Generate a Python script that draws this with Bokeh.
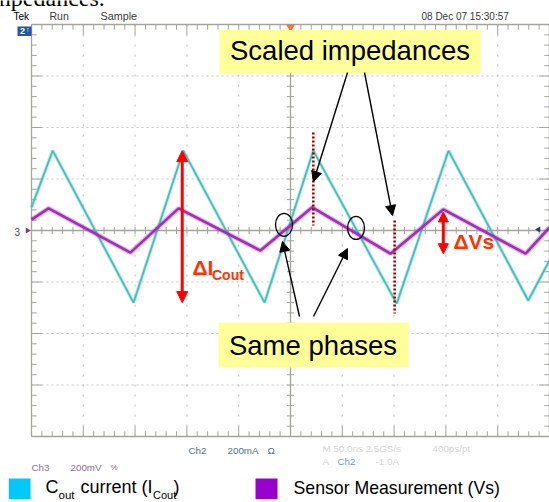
import numpy as np
from bokeh.plotting import figure
from bokeh.models import Range1d, Label, Arrow, NormalHead
from bokeh.embed import file_html
from bokeh.resources import INLINE

# ---------------- data (oscilloscope divisions: time 0..10, level -4..4) ----------------
cyan_t = [0.00, 0.41, 1.97, 2.93, 4.50, 5.44, 7.05, 8.05, 9.59, 10.00]
cyan_v = [0.45, 1.55, -1.40, 1.55, -1.40, 1.55, -1.42, 1.55, -1.36, -0.58]
purple_t = [0.00, 0.33, 1.91, 2.84, 4.42, 5.42, 6.93, 7.95, 9.54, 10.00]
purple_v = [0.21, 0.43, -0.43, 0.43, -0.39, 0.45, -0.45, 0.41, -0.45, 0.06]
phase_t = [4.875, 6.265]          # circled "same phase" crossings
phase_v = [0.11, 0.05]

header_texts = ["Tek", "Run", "Sample", "08 Dec 07 15:30:57"]
legend_texts = ["Sensor Measurement (Vs)"]

# ---------------- layout helpers (reference image px -> divisions) ----------------
W, H = 549, 502
X0, XD, Y0, YD = 31.0, 51.8, 230.0, 51.5
BASE_SHIFT = 0.36   # em offset of the label anchor relative to the visual baseline


def px(X):
    return (X - X0) / XD


def py(Y):
    return (Y0 - Y) / YD


p = figure(width=W, height=H, x_range=Range1d(px(0), px(W)), y_range=Range1d(py(H), py(0)),
           output_backend="svg", toolbar_location=None, x_axis_type=None, y_axis_type=None,
           min_border=0)
p.outline_line_color = None
p.background_fill_color = "white"
p.border_fill_color = "white"

GRID = "#c8c8c8"
FRAME = "#a4a49c"

# dotted graticule
gx = [1, 2, 3, 4, 6, 7, 8, 9]
p.segment(x0=gx, y0=[-4] * len(gx), x1=gx, y1=[4] * len(gx), line_color=GRID, line_width=1.2,
          line_dash="2 8")
gy = [-3, -2, -1, 1, 2, 3]
p.segment(x0=[0] * len(gy), y0=gy, x1=[10] * len(gy), y1=gy, line_color=GRID, line_width=1.2,
          line_dash="2 3")

# centre cross with minor ticks
p.segment(x0=[5, 0], y0=[-4, 0], x1=[5, 10], y1=[4, 0], line_color=FRAME, line_width=1.3)
tt = np.round(np.arange(0, 10.001, 0.2), 3)
ss = np.round(np.arange(-4, 4.001, 0.2), 3)
p.segment(x0=tt, y0=-0.07, x1=tt, y1=0.07, line_color=FRAME, line_width=1)
p.segment(x0=5 - 0.07, y0=ss, x1=5 + 0.07, y1=ss, line_color=FRAME, line_width=1)

# frame with ticks
p.segment(x0=[0, 0, 0, 10], y0=[-4, 4, -4, -4], x1=[0, 10, 10, 10], y1=[4, 4, -4, 4],
          line_color=FRAME, line_width=1.3)
lt = np.where(np.isclose(tt, np.round(tt)), 0.2, 0.1)
ls = np.where(np.isclose(ss, np.round(ss)), 0.2, 0.1)
p.segment(x0=0, y0=ss, x1=ls, y1=ss, line_color=FRAME, line_width=1)
p.segment(x0=10, y0=ss, x1=10 - ls, y1=ss, line_color=FRAME, line_width=1)
p.segment(x0=tt, y0=4, x1=tt, y1=4 - lt, line_color=FRAME, line_width=1)
p.segment(x0=tt, y0=-4, x1=tt, y1=-4 + lt, line_color=FRAME, line_width=1)

# scope markers
p.scatter([5.0], [py(26.5)], marker="inverted_triangle", size=9, fill_color="#f07a3c", line_color=None)
p.scatter([px(27)], [0], marker="triangle", angle=-np.pi / 2, size=6, fill_color="#7a3f8a", line_color=None)
p.scatter([px(538)], [py(229)], marker="triangle", angle=np.pi / 2, size=6, fill_color="#1d3c78", line_color=None)
p.quad(left=px(17), right=px(31), top=py(26), bottom=py(35.5), fill_color="#2456a8", line_color=None)

# traces
p.line(cyan_t, cyan_v, line_color="#4ec5c1", line_width=3.6, line_alpha=0.35)
p.line(cyan_t, cyan_v, line_color="#44bfbb", line_width=1.8)
p.line(purple_t, purple_v, line_color="#a83cbc", line_width=5.0, line_alpha=0.35)
p.line(purple_t, purple_v, line_color="#a02fb4", line_width=2.6)

# dark red dotted markers at peak / trough
p.segment(x0=[cyan_t[5], cyan_t[6] - 0.04], y0=[py(132), py(220)],
          x1=[cyan_t[5], cyan_t[6] - 0.04], y1=[py(225), py(313)],
          line_color="#a00000", line_width=2.6, line_dash="2 2")

# circles around crossings
p.ellipse(x=phase_t, y=phase_v, width=17 / XD, height=23 / YD, fill_color=None,
          line_color="black", line_width=1.3)

# yellow callouts
p.quad(left=[px(219), px(218)], right=[px(480), px(408)], top=[py(29.5), py(322)],
       bottom=[py(72.5), py(367)], fill_color="#ffff99", line_color=None)

for (xa, ya, xb, yb) in [(347, 72, 313, 181), (364, 72, 392, 215), (299, 316, 282, 241), (313, 316, 347, 248)]:
    p.add_layout(Arrow(end=NormalHead(size=10, fill_color="black", line_color="black", line_width=1),
                       x_start=px(xa), y_start=py(ya), x_end=px(xb), y_end=py(yb),
                       line_color="black", line_width=1.4))

# red peak-to-peak arrows
RED = "#ff0000"
p.add_layout(Arrow(start=NormalHead(size=11, fill_color=RED, line_color=RED),
                   end=NormalHead(size=11, fill_color=RED, line_color=RED),
                   x_start=cyan_t[3] - 0.02, y_start=cyan_v[2], x_end=cyan_t[3] - 0.02, y_end=cyan_v[3],
                   line_color=RED, line_width=3))
p.add_layout(Arrow(start=NormalHead(size=10, fill_color=RED, line_color=RED),
                   end=NormalHead(size=10, fill_color=RED, line_color=RED),
                   x_start=purple_t[7], y_start=purple_v[8], x_end=purple_t[7], y_end=purple_v[7] - 0.05,
                   line_color=RED, line_width=3))


def lab(X, Y, text, size, color="black", font="Liberation Sans", style="normal", align="left"):
    p.add_layout(Label(x=px(X), y=py(Y - BASE_SHIFT * size), text=text, text_font=font,
                       text_font_size=f"{size}px", text_color=color, text_font_style=style,
                       text_align=align, text_baseline="alphabetic"))


# callout texts
lab(349.5, 60, "Scaled impedances", 27.5, align="center")
lab(312.5, 355, "Same phases", 27.5, align="center")
lab(192, 275, "ΔI", 21, color="#ff3300", style="bold")
lab(211.5, 279.5, "Cout", 14, color="#ff3300", style="bold")
lab(453, 248.3, "ΔVs", 21, color="#ff3300", style="bold")

# partially visible caption above (clipped at the top edge, as in the reference)
lab(-15, 6.5, "impedances.", 24, font="Liberation Serif")

# scope header / footer
HC = "#3a3a3a"
lab(13, 19.5, header_texts[0], 10)
lab(49, 19.5, header_texts[1], 10.5, color=HC)
lab(100, 19.5, header_texts[2], 10.8, color=HC)
lab(421, 19.5, header_texts[3], 10, color=HC)
lab(19.5, 34, "2", 9, color="white", style="bold")
lab(25.5, 31.5, "↑", 7, color="white", style="bold")
lab(14, 235.5, "3", 10, color="#5a4a6a")

C2 = "#4f7385"
C3 = "#8a6f95"
FAINT = "#d6d6d6"
lab(188, 453.3, "Ch2", 9.8, color=C2)
lab(227, 453.3, "200mA", 9.8, color=C2)
lab(267, 453.3, "Ω", 9.8, color=C2)
lab(31, 471, "Ch3", 9.8, color=C3)
lab(70, 471, "200mV", 9.8, color=C3)
lab(110, 470, "%", 8, color=C3)
lab(322, 452, "M 50.0ns 2.5GS/s", 9.8, color=FAINT)
lab(432, 452, "400ps/pt", 9.8, color=FAINT)
lab(322, 465, "A", 9.8, color=FAINT)
lab(337, 465, "Ch2", 9.8, color="#7c98a6")
lab(357, 465, "∕", 9.8, color=FAINT)
lab(375, 465, "-1.0A", 9.8, color=FAINT)

# legend
p.quad(left=[px(8.3), px(255)], right=[px(30), px(277)], top=[py(478), py(478)],
       bottom=[py(498.5), py(498.5)], fill_color=["#00c8f8", "#9900cc"], line_color=None)
lab(45, 493, "C", 18)
lab(58, 498.5, "out", 11.5)
lab(80, 493, "current (I", 18)
lab(152.5, 498.5, "Cout", 11)
lab(173, 493, ")", 18)
lab(293, 493.5, legend_texts[0], 17.7)

open("out.html", "w").write(file_html(p, INLINE))
